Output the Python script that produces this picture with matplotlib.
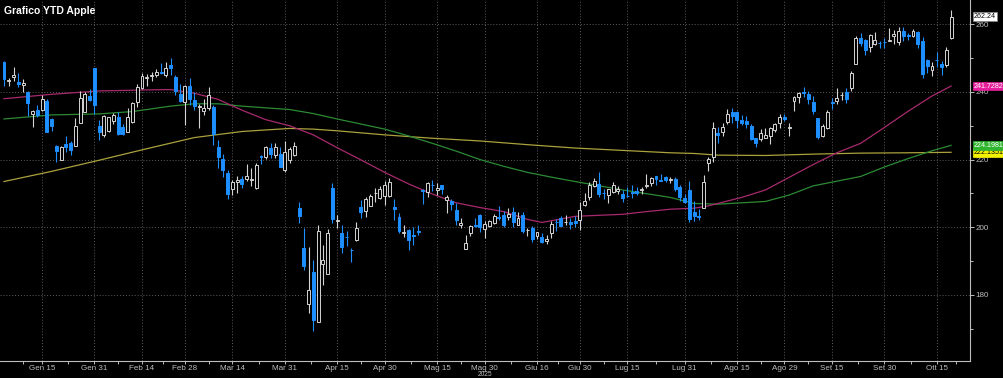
import numpy as np
import pandas as pd
import matplotlib
matplotlib.use('Agg')
import matplotlib.pyplot as plt
import matplotlib.transforms as mtransforms

# trading days of 2025 up to Oct 20
holidays = ['2025-01-09', '2025-01-20', '2025-02-17', '2025-04-18',
            '2025-05-26', '2025-06-19', '2025-07-04', '2025-09-01']
dates = pd.bdate_range('2025-01-02', '2025-10-20')
dates = dates[~dates.isin(pd.to_datetime(holidays))]

opens = [248.93, 243.36, 244.31, 242.98, 241.92, 240.01, 233.53, 234.75, 234.64, 237.35, 232.12, 224.00, 219.79, 224.74, 224.78, 224.02, 230.85, 234.12, 238.67, 247.19,
         229.99, 227.25, 228.53, 231.29, 232.60, 229.57, 228.20, 231.20, 236.91, 241.25, 244.15, 244.66, 244.94, 245.95, 244.93, 248.00, 244.33, 239.41, 236.95,
         241.79, 237.71, 235.42, 234.44, 235.11, 235.54, 223.81, 220.14, 215.95, 211.25, 213.31, 214.16, 214.22, 213.99, 211.56, 221.00, 220.77, 223.51, 221.39, 221.67, 217.01,
         219.81, 221.32, 205.54, 193.89, 177.20, 186.70, 171.95, 189.07, 186.10, 211.44, 201.86, 198.36, 197.20, 193.27, 196.12, 206.00, 204.89, 206.37, 210.00, 208.69, 209.30,
         209.08, 206.09, 203.10, 198.21, 199.17, 197.72, 199.00, 210.97, 210.43, 212.43, 210.95, 212.36, 207.91, 207.67, 205.17, 200.71, 193.67, 198.30, 200.59, 203.58, 199.37,
         200.28, 201.35, 202.91, 203.50, 203.00, 204.39, 200.60, 203.50, 199.08, 199.73, 197.30, 197.20, 195.94, 198.24, 201.63, 202.59, 201.45, 201.43, 201.89, 202.01,
         206.67, 208.91, 212.15, 212.68, 210.10, 209.53, 210.51, 210.57, 209.93, 209.22, 210.30, 210.57, 210.87, 212.10, 213.14, 215.00, 213.90, 214.70, 214.03, 214.18, 211.90, 208.49,
         210.87, 204.51, 203.40, 205.63, 218.88, 220.83, 227.92, 228.01, 231.07, 234.06, 234.00, 231.70, 231.28, 229.98, 226.27, 226.17, 226.48, 226.87, 228.61, 230.82, 232.51,
         229.25, 237.21, 238.45, 240.00, 239.30, 237.00, 232.19, 226.88, 229.22, 237.00, 237.18, 238.97, 239.97, 241.23, 248.30, 255.88, 255.22, 253.21, 254.10, 254.56, 254.86,
         255.04, 256.58, 254.67, 257.99, 256.81, 256.52, 257.81, 254.94, 249.38, 246.60, 249.49, 248.25, 248.02, 255.89]
highs = [249.10, 244.18, 247.33, 245.55, 243.71, 240.16, 234.67, 236.12, 238.96, 238.01, 232.29, 224.42, 224.12, 227.03, 225.63, 232.15, 240.19, 239.86, 240.79, 247.19,
         231.83, 233.13, 232.67, 233.80, 234.00, 230.59, 235.23, 236.96, 242.34, 245.55, 245.18, 246.01, 246.78, 248.69, 248.86, 250.00, 244.98, 242.46, 242.09,
         244.03, 240.07, 236.55, 237.86, 241.37, 236.16, 225.84, 221.75, 216.84, 213.95, 215.22, 215.15, 218.76, 217.49, 218.84, 221.48, 224.10, 225.02, 224.99, 223.81, 225.62,
         223.68, 225.19, 207.49, 199.88, 194.15, 190.34, 200.61, 194.78, 199.54, 212.94, 203.51, 200.70, 198.83, 193.80, 201.59, 208.00, 208.83, 209.75, 211.50, 212.24, 213.58,
         214.56, 208.29, 204.10, 200.65, 199.44, 200.05, 200.54, 211.27, 213.40, 213.94, 212.96, 212.57, 209.48, 208.47, 207.04, 202.75, 197.70, 200.74, 202.73, 203.81, 201.96,
         202.13, 203.77, 206.24, 204.75, 205.70, 206.00, 204.35, 204.50, 199.68, 200.37, 198.69, 198.39, 197.57, 201.70, 202.30, 203.44, 203.67, 202.64, 203.22, 207.39,
         210.19, 213.34, 214.65, 216.23, 211.43, 211.33, 213.48, 212.13, 210.91, 211.89, 212.40, 211.80, 211.79, 215.78, 214.95, 215.15, 215.69, 215.24, 214.85, 214.81, 212.39, 209.84,
         213.58, 207.88, 205.34, 215.38, 220.85, 231.00, 229.56, 230.80, 235.00, 235.12, 234.28, 233.12, 232.87, 230.47, 226.52, 229.09, 229.30, 229.49, 230.90, 233.41, 233.38,
         230.85, 238.85, 239.90, 241.32, 240.15, 238.78, 232.42, 230.45, 234.51, 238.19, 241.22, 240.10, 241.20, 246.30, 256.64, 257.34, 255.74, 257.17, 257.60, 255.00, 255.92,
         258.79, 258.18, 259.24, 259.07, 257.40, 258.52, 258.00, 256.38, 249.69, 248.85, 251.82, 249.04, 253.38, 264.38]
lows = [241.82, 241.89, 243.20, 241.35, 240.05, 233.00, 229.72, 232.47, 234.43, 228.03, 228.48, 219.38, 219.79, 222.30, 221.41, 223.98, 230.81, 234.01, 237.21, 233.44,
        225.70, 226.65, 228.27, 230.43, 227.26, 227.20, 228.13, 230.68, 235.57, 240.99, 241.84, 243.16, 244.29, 245.22, 244.42, 244.91, 239.13, 237.06, 230.20,
        236.11, 234.68, 229.23, 233.16, 234.76, 224.22, 217.45, 214.91, 208.42, 209.58, 209.97, 211.49, 213.75, 212.22, 211.28, 218.58, 220.08, 220.47, 220.56, 217.68, 216.23,
        218.90, 221.02, 201.25, 187.34, 174.62, 169.21, 171.89, 183.00, 186.06, 201.16, 199.80, 192.37, 194.42, 189.81, 195.97, 202.80, 202.94, 206.20, 207.46, 208.37, 206.67,
        208.90, 202.16, 198.21, 197.02, 193.25, 194.68, 197.54, 206.75, 209.00, 210.58, 209.54, 209.77, 204.26, 205.03, 200.71, 199.70, 193.46, 197.43, 199.90, 198.51, 196.78,
        200.12, 200.96, 202.10, 200.15, 202.05, 200.02, 200.57, 198.41, 197.36, 195.70, 196.56, 195.21, 195.07, 196.86, 198.96, 200.20, 200.62, 199.46, 200.00, 199.26,
        206.14, 208.14, 211.81, 208.80, 208.45, 207.22, 210.03, 209.86, 207.54, 208.92, 208.64, 209.59, 209.70, 211.63, 212.23, 212.41, 213.53, 213.40, 213.06, 210.82, 207.72, 207.16,
        201.50, 201.68, 202.16, 205.59, 216.58, 219.25, 224.76, 227.07, 230.43, 230.85, 229.34, 230.11, 229.35, 225.77, 223.78, 225.41, 226.23, 224.69, 228.26, 229.34, 231.37,
        226.97, 234.36, 236.74, 238.49, 236.34, 233.36, 225.95, 226.65, 229.02, 235.03, 236.32, 237.73, 236.65, 240.21, 248.12, 253.58, 251.04, 251.71, 253.78, 253.01, 253.11,
        254.93, 254.15, 253.95, 255.05, 255.43, 256.11, 253.14, 244.00, 245.56, 244.70, 247.47, 245.13, 247.27, 255.63]
closes = [243.85, 243.36, 245.00, 242.21, 242.70, 236.85, 234.40, 233.28, 237.87, 228.26, 229.98, 222.64, 223.83, 223.66, 222.78, 229.86, 238.26, 239.36, 237.59, 236.00,
          228.01, 232.80, 232.47, 233.22, 227.63, 227.65, 232.62, 236.87, 241.53, 244.60, 244.47, 244.87, 245.83, 245.55, 247.10, 247.04, 240.36, 237.30, 241.84,
          238.03, 235.93, 235.74, 235.33, 239.07, 227.48, 220.84, 216.98, 209.68, 213.49, 214.00, 212.69, 215.24, 214.10, 218.27, 220.73, 223.75, 221.53, 223.85, 217.90, 222.13,
          223.19, 223.89, 203.19, 188.38, 181.46, 172.42, 198.85, 190.42, 198.15, 202.52, 202.14, 194.27, 196.98, 193.16, 199.74, 204.60, 208.37, 209.28, 210.14, 211.21, 212.50,
          213.32, 205.35, 198.89, 198.51, 196.25, 197.49, 198.53, 210.79, 212.93, 212.33, 211.45, 211.26, 208.78, 206.86, 202.09, 201.36, 195.27, 200.21, 200.42, 199.95, 200.85,
          201.70, 203.27, 202.82, 200.63, 203.92, 201.45, 202.67, 198.78, 199.20, 196.45, 198.42, 195.64, 196.58, 201.00, 201.50, 200.30, 201.56, 201.00, 201.08, 205.17,
          207.82, 212.44, 213.55, 209.95, 210.01, 211.14, 212.41, 211.16, 208.62, 209.11, 210.16, 210.02, 211.18, 212.48, 214.40, 214.15, 213.76, 213.88, 214.05, 211.27, 209.05, 207.57,
          202.38, 203.35, 202.92, 213.25, 220.03, 229.35, 227.18, 229.65, 233.33, 232.78, 231.59, 230.89, 230.56, 226.01, 224.90, 227.76, 227.16, 229.31, 230.49, 232.56, 232.14,
          229.72, 238.47, 239.78, 239.69, 237.88, 234.35, 226.79, 230.03, 234.07, 236.70, 238.15, 238.99, 237.88, 245.50, 256.08, 254.43, 252.31, 256.87, 255.46, 254.43, 254.63,
          255.45, 257.13, 258.02, 256.69, 256.48, 258.06, 254.04, 245.27, 247.66, 247.77, 249.34, 247.45, 252.29, 262.24]

# moving averages (trading-day index, value)
ma50_idx = [0, 10, 20, 30, 35, 40, 45, 50, 55, 60, 65, 70, 75, 80, 85, 90, 95, 100, 105, 110,
            113, 117, 120, 130, 135, 140, 145, 148, 155, 160, 170, 175, 180, 185, 190, 195, 199]
ma50_val = [238.0, 239.3, 240.3, 240.6, 240.7, 239.6, 237.8, 234.6, 231.8, 230.0, 227.3, 223.5, 219.9, 216.2, 212.8, 209.8, 207.2, 205.8, 204.6, 202.3,
            201.4, 202.4, 203.2, 203.8, 204.6, 205.3, 205.6, 206.3, 208.8, 211.0, 218.5, 222.0, 224.8, 229.5, 234.3, 238.8, 241.73]
ma100_idx = [0, 10, 20, 27, 35, 40, 45, 50, 60, 65, 70, 80, 85, 90, 95, 100, 105, 110, 115, 120,
             130, 140, 145, 150, 160, 165, 170, 180, 185, 190, 195, 199]
ma100_val = [232.0, 233.2, 233.5, 234.2, 235.8, 236.5, 236.5, 235.8, 234.8, 233.6, 232.0, 229.0, 227.0, 224.8, 222.5, 220.0, 218.0, 216.2, 214.8, 213.5,
             211.0, 208.8, 207.0, 206.8, 207.6, 209.5, 212.2, 215.0, 217.8, 220.3, 222.6, 224.2]
ma200_idx = [0, 10, 20, 30, 40, 50, 60, 65, 70, 80, 90, 100, 110, 120, 130, 140, 145, 150, 160, 170, 180, 190, 199]
ma200_val = [213.5, 216.5, 219.8, 223.2, 226.5, 228.3, 229.2, 229.0, 228.5, 227.3, 226.3, 225.5, 224.4, 223.4, 222.7, 222.0, 221.8, 221.3, 221.2, 221.6, 221.9, 222.0, 222.14]

tick_dates = ['2025-01-15', '2025-01-31', '2025-02-14', '2025-02-28', '2025-03-14', '2025-03-31',
              '2025-04-15', '2025-04-30', '2025-05-15', '2025-05-30', '2025-06-16', '2025-06-30',
              '2025-07-15', '2025-07-31', '2025-08-15', '2025-08-29', '2025-09-15', '2025-09-30', '2025-10-15']
tick_labels = ['Gen 15', 'Gen 31', 'Feb 14', 'Feb 28', 'Mar 14', 'Mar 31', 'Apr 15', 'Apr 30', 'Mag 15',
               'Mag 30', 'Giu 16', 'Giu 30', 'Lug 15', 'Lug 31', 'Ago 15', 'Ago 29', 'Set 15', 'Set 30', 'Ott 15']
y_ticks = [180, 200, 220, 240, 260]

plt.rcParams['font.family'] = ['Liberation Sans Narrow', 'Liberation Sans', 'DejaVu Sans']

o = np.array(opens)
h = np.array(highs)
l = np.array(lows)
c = np.array(closes)
x = np.arange(len(dates))
up = c >= o

BLUE = '#1e8fff'
GREY = '#d4d4d4'

fig = plt.figure(figsize=(10.04, 3.78), dpi=100, facecolor='black')
ax = fig.add_axes([0, 17 / 378, 970 / 1004, 361 / 378])
ax.set_facecolor('black')

# moving averages
ax.plot(ma200_idx, ma200_val, color='#aaa23c', lw=0.9, zorder=2)
ax.plot(ma100_idx, ma100_val, color='#2c8a34', lw=0.9, zorder=2)
ax.plot(ma50_idx, ma50_val, color='#a82a6e', lw=0.9, zorder=2)

# candles
wick_col = [GREY if u else BLUE for u in up]
ax.vlines(x, l, h, colors=wick_col, linewidth=0.8, zorder=3)
body = np.maximum(np.abs(c - o), 0.15)
ax.bar(x, body, bottom=np.minimum(o, c), width=0.62,
       color=['black' if u else BLUE for u in up],
       edgecolor=[GREY if u else BLUE for u in up], linewidth=0.7, zorder=4)

ax.set_xlim(-0.84, 202.98)
ax.set_ylim(160.4, 267.2)

tick_pos = [int(np.where(dates == pd.Timestamp(d))[0][0]) for d in tick_dates]
ax.set_xticks(tick_pos)
ax.set_xticklabels(tick_labels)
mids = [tick_pos[0] - 4] + [(a + b) / 2 for a, b in zip(tick_pos[:-1], tick_pos[1:])] + [tick_pos[-1] + 4]
ax.set_xticks(mids, minor=True)

ax.yaxis.tick_right()
ax.set_yticks(y_ticks)
ax.set_yticks([170, 190, 210, 230, 250], minor=True)

ax.grid(True, which='major', color='#5c5c5c', linestyle=(0, (1, 2)), linewidth=0.7)
ax.tick_params(axis='both', which='both', colors='#bdbdbd', labelsize=5.8, length=2, width=0.7, pad=1.2)
ax.tick_params(axis='y', which='major', length=3)
for s in ['top', 'left']:
    ax.spines[s].set_visible(False)
for s in ['right', 'bottom']:
    ax.spines[s].set_color('#bdbdbd')
    ax.spines[s].set_linewidth(0.8)

# year under "Mag 30"
ax.annotate('2025', xy=(tick_pos[9], 0), xycoords=('data', 'axes fraction'),
            xytext=(0, -7.2), textcoords='offset points', ha='center', va='top',
            fontsize=4.8, color='#bdbdbd')

# title
fig.text(0.004, 0.985, 'Grafico YTD Apple', color='white', fontsize=7.5, fontweight='bold',
         family=['Liberation Sans', 'DejaVu Sans'], ha='left', va='top')

# last value tags
trans = mtransforms.blended_transform_factory(ax.transAxes, ax.transData)
tags = [(222.1351, '222.1351', '#f2f200', 'black'),
        (224.1981, '224.1981', '#2fb52f', 'white'),
        (241.7282, '241.7282', '#e61e9b', 'white'),
        (262.24, '262.24', 'white', 'black')]
for val, txt, fc, tc in tags:
    ax.text(1.004, val, txt, transform=trans, ha='left', va='center', fontsize=5.1,
            color=tc, clip_on=False, zorder=6,
            bbox=dict(boxstyle='square,pad=0.12', fc=fc, ec='#888888' if fc == 'white' else fc, lw=0.5))

fig.savefig('out.png', dpi=100, facecolor='black')
